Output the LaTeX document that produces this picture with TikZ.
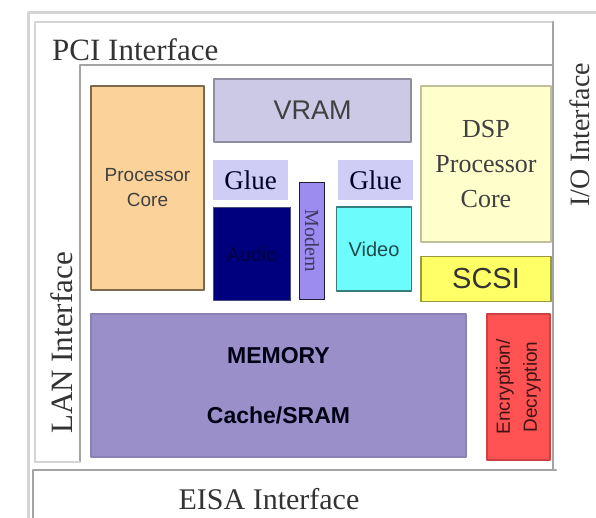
\documentclass[tikz,border=0pt]{standalone}
\usepackage{fontspec}
\setmainfont{Liberation Serif}
\setsansfont{Liberation Sans}
\usetikzlibrary{calc}
\definecolor{frameG}{HTML}{A4A4A4}
\definecolor{lightG}{HTML}{D4D4D4}
\definecolor{procC}{HTML}{FCD29B}
\definecolor{vramC}{HTML}{CCC9E6}
\definecolor{glueC}{HTML}{CFCCF6}
\definecolor{audioC}{HTML}{00007F}
\definecolor{modemC}{HTML}{9C8CF0}
\definecolor{videoC}{HTML}{6CFCFC}
\definecolor{dspC}{HTML}{FFFFCC}
\definecolor{scsiC}{HTML}{FFFF66}
\definecolor{memC}{HTML}{9A8FC8}
\definecolor{encC}{HTML}{FF5252}
\tikzstyle{every path}=[line cap=round, line join=round]
\tikzstyle{blk}=[draw, line width=1.5pt, inner sep=0pt, align=center]
\tikzstyle{iface}=[font=\fontsize{31}{34}\selectfont, text=black!80, inner sep=0pt]

\begin{document}
\begin{tikzpicture}[x=1pt,y=-1pt]
          \useasboundingbox (0,0) rectangle (596,518);
          %marco exterior
          \draw[lightG, line width=3pt] (28,518) -- (28,13) -- (596,13);
          %PCI
          \draw[lightG, line width=2pt] (35,462) -- (35,22) -- (553,22);
          \draw[frameG, line width=2.5pt] (553,22) -- (553,470);
          \draw[frameG, line width=2pt] (80,462) -- (80,65) -- (553,65);
          \draw[lightG, line width=2pt] (35,462) -- (80,462);
          %EISA
          \draw[frameG, line width=2.5pt] (33,518) -- (33,470) -- (556,470);
          %interfaces
          \node[iface, anchor=base west] (pci) at (52,61) {PCI Interface};
          \node[iface, rotate=90] (lan) at (62,343) {LAN Interface};
          \node[iface, rotate=90, font=\fontsize{28}{30}\selectfont] (io) at (580,135) {I/O Interface};
          \node[iface, font=\fontsize{30}{32}\selectfont] (eisa) at (269,499) {EISA Interface};
          %bloques
          \node[blk, fill=procC, draw=procC!50!black, minimum width=113pt, minimum height=204pt,
                font=\sffamily\fontsize{19}{25}\selectfont, text=black!75] (proc) at (147.5,188) {Processor\\Core};
          \node[blk, fill=vramC, draw=vramC!70!black, minimum width=197pt, minimum height=63pt,
                font=\sffamily\fontsize{27}{30}\selectfont, text=black!75] (vram) at (312.5,110.5) {VRAM};
          \node[blk, fill=glueC, draw=none, minimum width=75pt, minimum height=40pt,
                font=\fontsize{27}{30}\selectfont, text=black!75!blue!60!black] (glueA) at (250.5,180) {Glue};
          \node[blk, fill=glueC, draw=none, minimum width=75pt, minimum height=40pt,
                font=\fontsize{27}{30}\selectfont, text=black!75!blue!60!black] (glueB) at (375.5,180) {Glue};
          \node[blk, fill=audioC, draw=audioC!40!gray, minimum width=77pt, minimum height=93pt,
                font=\sffamily\fontsize{20}{24}\selectfont, text=audioC!50!black] (audio) at (252,254) {Audio};
          \node[blk, fill=modemC, draw=modemC!20!black, minimum width=25pt, minimum height=117pt,
                font=\fontsize{20}{24}\selectfont, text=modemC!40!black] (modem) at (312,241) {};
          \node[rotate=-90, font=\fontsize{20}{24}\selectfont, text=modemC!40!black] (modemT) at (modem.center) {Modem};
          \node[blk, fill=videoC, draw=videoC!50!black, minimum width=75pt, minimum height=84pt,
                font=\sffamily\fontsize{20}{24}\selectfont, text=videoC!30!black] (video) at (374,249) {Video};
          \node[blk, fill=dspC, draw=dspC!75!black, minimum width=130pt, minimum height=156pt,
                font=\fontsize{26}{35}\selectfont, text=black!75] (dsp) at (486,164) {DSP\\Processor\\Core};
          \node[blk, fill=scsiC, draw=scsiC!60!black, minimum width=130pt, minimum height=45pt,
                font=\sffamily\fontsize{29}{32}\selectfont, text=black!80] (scsi) at (486,279) {SCSI};
          \node[blk, fill=memC, draw=memC!90!black, minimum width=375pt, minimum height=143pt,
                font=\sffamily\bfseries\fontsize{23}{60}\selectfont, text=black!80!blue!40!black] (mem) at (278.5,385.5) {MEMORY\\Cache/SRAM};
          \node[blk, fill=encC, draw=encC!80!black, minimum width=63pt, minimum height=146pt] (enc) at (518.5,387) {};
          \node[rotate=90, align=center, font=\sffamily\fontsize{19}{27}\selectfont, text=encC!25!black] (encT) at (enc.center) {Encryption/\\Decryption};
        \end{tikzpicture}
\end{document}
